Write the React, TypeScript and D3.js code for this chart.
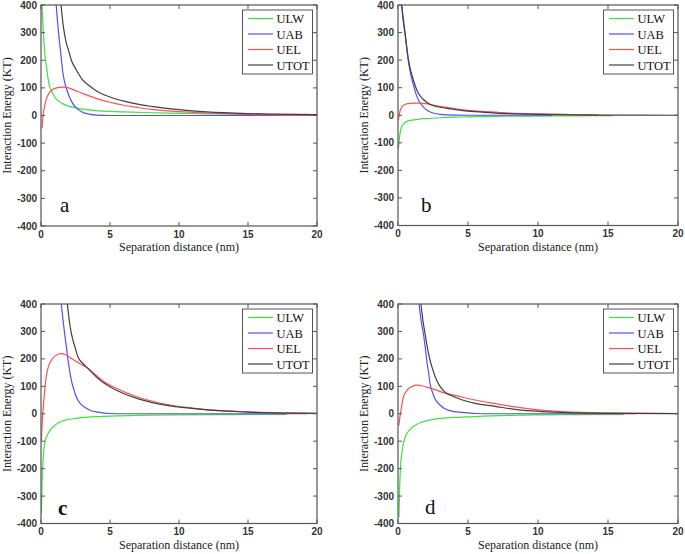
import React from "react";
import * as d3 from "d3";

const X_TICKS = [0, 5, 10, 15, 20];
const Y_TICKS = [-400, -300, -200, -100, 0, 100, 200, 300, 400];
const SERIES_NAMES = ["ULW", "UAB", "UEL", "UTOT"];
const SERIES_COLORS = ["#3fe03f", "#5050ff", "#ff5050", "#404040"];
const PANEL_LETTERS = ["a", "b", "c", "d"];

type P = [number, number];

// Panel a
const aULW: P[] = [[0.07,400],[0.15,320],[0.25,240],[0.4,175],[0.6,110],[0.8,85],[1,66],[1.3,52],[1.6,42],[2,34],[2.5,28],[3,23],[4,18],[5,15],[6,13],[8,10],[10,8],[12,6],[15,4],[17.8,3]];
const aUAB: P[] = [[1.1,400],[1.25,310],[1.4,240],[1.6,150],[1.8,105],[2,75],[2.2,52],[2.5,30],[3,12],[3.5,5],[4,1.5],[5,0],[10,0],[20,0]];
const aUEL: P[] = [[0.07,-46],[0.15,0],[0.25,32],[0.4,62],[0.6,82],[0.85,94],[1.2,101],[1.6,103],[2,100],[2.5,90],[3,80],[4,62],[5,48],[6,37],[7,29],[8,22],[10,14],[12,9],[15,4],[20,1]];
const aUTOT: P[] = [[1.45,400],[1.6,330],[1.8,270],[2,235],[2.2,200],[2.5,170],[3,130],[3.5,108],[4,90],[5,67],[6,52],[7,41],[8,33],[10,21],[12,13],[15,7],[17,5],[20,3]];

// Panel b
const bULW: P[] = [[0.03,-121],[0.08,-95],[0.14,-67],[0.2,-52],[0.26,-42],[0.35,-34],[0.5,-26],[0.7,-21],[1,-18],[1.5,-14],[2,-12],[3,-9],[4,-7],[5,-6],[7,-4],[10,-3],[12.5,-2],[15.3,-1.5]];
const bUAB: P[] = [[0.26,400],[0.35,350],[0.5,297],[0.7,210],[0.9,150],[1.1,110],[1.3,75],[1.5,52],[1.8,30],[2.1,17],[2.5,8],[3,3],[4,0.5],[5,0],[11,0]];
const bUEL: P[] = [[0.03,-18],[0.12,10],[0.25,28],[0.4,36],[0.7,42],[1.2,44],[1.6,44],[2,42],[2.5,37],[3,32],[4,24],[5,18],[6,14],[7,11],[8,8],[10,5],[12,3],[14.3,1.5]];
const bUTOT: P[] = [[0.26,400],[0.5,300],[0.75,200],[1.1,127],[1.45,80],[1.8,58],[2.2,42],[2.9,30],[3.5,25],[4.5,18],[5.5,13],[7,8],[8.5,5],[10,3],[12,1.5],[15,0.5],[20,0]];

// Panel c
const cULW: P[] = [[0.03,-366],[0.07,-268],[0.1,-215],[0.15,-171],[0.2,-135],[0.27,-110],[0.35,-90],[0.51,-73],[0.7,-57],[0.99,-43],[1.3,-32],[1.71,-24],[2.5,-17],[3.4,-12],[5,-9],[7,-6],[10.4,-4],[14,-3],[17.8,-2]];
const cUAB: P[] = [[1.47,400],[1.6,340],[1.71,293],[1.85,240],[1.96,195],[2.1,150],[2.2,122],[2.4,85],[2.56,61],[2.8,40],[3.17,24],[3.6,12],[4.13,6],[5,1],[6,0],[19.3,0]];
const cUEL: P[] = [[0.03,-98],[0.08,-40],[0.15,12],[0.27,85],[0.38,134],[0.5,165],[0.75,195],[1,210],[1.47,219],[1.8,215],[2.2,201],[2.8,183],[3.41,165],[4,140],[4.61,116],[5.5,92],[7,61],[8.5,40],[10.4,24],[12,15],[15,7],[18,3],[20,1]];
const cUTOT: P[] = [[1.91,400],[2.05,340],[2.2,293],[2.45,245],[2.68,207],[3,185],[3.41,165],[4,135],[4.61,110],[5.5,85],[7,55],[8.5,36],[10.4,22],[12,14],[15,6],[18,2],[20,1]];

// Panel d
const dULW: P[] = [[0.07,-378],[0.12,-268],[0.16,-210],[0.21,-171],[0.3,-135],[0.38,-110],[0.5,-88],[0.62,-73],[0.9,-55],[1.21,-43],[1.6,-32],[2.17,-24],[3,-17],[4.55,-12],[6,-9],[8,-6],[10.26,-4],[13,-3],[16.1,-2]];
const dUAB: P[] = [[1.5,400],[1.65,340],[1.81,293],[1.95,240],[2.05,195],[2.2,145],[2.29,110],[2.45,80],[2.64,55],[3,32],[3.36,18],[4,8],[4.55,5],[5.5,1],[7,0],[17,0]];
const dUEL: P[] = [[0.07,-43],[0.14,-10],[0.21,12],[0.3,40],[0.38,61],[0.5,75],[0.74,91],[1,99],[1.33,104],[1.7,102],[2.17,95],[2.8,85],[3.36,75],[4,68],[4.55,61],[5.5,50],[6.93,37],[8.5,24],[10.26,13],[12,7],[15,3],[20,1]];
const dUTOT: P[] = [[1.64,400],[1.78,340],[1.93,293],[2.1,240],[2.29,195],[2.5,158],[2.76,122],[3,100],[3.36,79],[4,62],[4.55,51],[5.5,38],[6.93,27],[8.5,15],[10.26,8],[12,4],[15,1.5],[20,0.5]];

const PANEL_DATA: P[][][] = [
  [aULW, aUAB, aUEL, aUTOT],
  [bULW, bUAB, bUEL, bUTOT],
  [cULW, cUAB, cUEL, cUTOT],
  [dULW, dUAB, dUEL, dUTOT],
];

const FRAMES = [
  { l: 41, r: 317, t: 5, b: 226, letterX: 60, letterY: 212, bold: false },
  { l: 398, r: 678, t: 5, b: 225.5, letterX: 421, letterY: 212, bold: false },
  { l: 41, r: 317, t: 304, b: 523.5, letterX: 58, letterY: 515, bold: true },
  { l: 398, r: 678, t: 304, b: 523.5, letterX: 425, letterY: 514, bold: false },
];

const AX = "#555";
const SERIF = "'Liberation Serif', 'Times New Roman', serif";
const SANS = "'Liberation Sans', Arial, sans-serif";

function Panel({ idx }: { idx: number }) {
  const f = FRAMES[idx];
  const x = d3.scaleLinear().domain([0, 20]).range([f.l, f.r]);
  const y = d3.scaleLinear().domain([-400, 400]).range([f.b, f.t]);
  const line = d3
    .line<P>()
    .x((d) => x(d[0]))
    .y((d) => y(d[1]))
    .curve(d3.curveMonotoneX);
  const clipId = `clip${idx}`;
  const tl = 4;
  const boxR = f.r - 4.5;
  const boxL = boxR - 70;
  const boxT = f.t + 5;
  const boxB = boxT + 64;
  return (
    <g>
      <defs>
        <clipPath id={clipId}>
          <rect x={f.l} y={f.t} width={f.r - f.l} height={f.b - f.t} />
        </clipPath>
      </defs>
      <rect x={f.l} y={f.t} width={f.r - f.l} height={f.b - f.t} fill="white" />
      <g clipPath={`url(#${clipId})`}>
        {PANEL_DATA[idx].map((s, i) => (
          <path key={i} d={line(s) || ""} fill="none" stroke={SERIES_COLORS[i]} strokeWidth={1.2} />
        ))}
      </g>
      {/* frame */}
      <rect x={f.l} y={f.t} width={f.r - f.l} height={f.b - f.t} fill="none" stroke={AX} strokeWidth={1.2} />
      {X_TICKS.map((t) => (
        <g key={"x" + t}>
          <line x1={x(t)} x2={x(t)} y1={f.b} y2={f.b - tl} stroke={AX} />
          <line x1={x(t)} x2={x(t)} y1={f.t} y2={f.t + tl} stroke={AX} />
          <text x={x(t)} y={f.b + 11.5} textAnchor="middle" fontFamily={SANS} fontWeight="bold" fontSize={10} fill="#333">
            {t}
          </text>
        </g>
      ))}
      {Y_TICKS.map((t) => (
        <g key={"y" + t}>
          <line x1={f.l} x2={f.l + tl} y1={y(t)} y2={y(t)} stroke={AX} />
          <line x1={f.r} x2={f.r - tl} y1={y(t)} y2={y(t)} stroke={AX} />
          <text x={f.l - 4} y={y(t) + 3.5} textAnchor="end" fontFamily={SANS} fontWeight="bold" fontSize={10} fill="#333">
            {t}
          </text>
        </g>
      ))}
      <text
        x={(f.l + f.r) / 2}
        y={f.b + 25}
        textAnchor="middle"
        fontFamily={SERIF}
        fontSize={12}
        fill="#222"
      >
        Separation distance (nm)
      </text>
      <text
        transform={`translate(${f.l - 30},${(f.t + f.b) / 2}) rotate(-90)`}
        textAnchor="middle"
        fontFamily={SERIF}
        fontSize={12}
        fill="#222"
      >
        Interaction Energy (KT)
      </text>
      <text x={f.letterX} y={f.letterY} fontFamily={SERIF} fontSize={21} fontWeight={f.bold ? "bold" : "normal"} fill="#111">
        {PANEL_LETTERS[idx]}
      </text>
      {/* legend */}
      <rect x={boxL} y={boxT} width={boxR - boxL} height={boxB - boxT} fill="white" stroke={AX} strokeWidth={1} />
      {SERIES_NAMES.map((n, i) => {
        const cy = boxT + 8.5 + i * 15.5;
        return (
          <g key={n}>
            <line x1={boxL + 5.5} x2={boxL + 30.5} y1={cy} y2={cy} stroke={SERIES_COLORS[i]} strokeWidth={1.2} />
            <text x={boxL + 34} y={cy + 4.5} fontFamily={SERIF} fontSize={12.5} fill="#111">
              {n}
            </text>
          </g>
        );
      })}
    </g>
  );
}

export default function App() {
  return (
    <svg
      width={685}
      height={554}
      style={{ position: "absolute", left: 0, top: 0, background: "white" }}
    >
      <rect x={0} y={0} width={685} height={554} fill="white" />
      {[0, 1, 2, 3].map((i) => (
        <Panel key={i} idx={i} />
      ))}
    </svg>
  );
}
